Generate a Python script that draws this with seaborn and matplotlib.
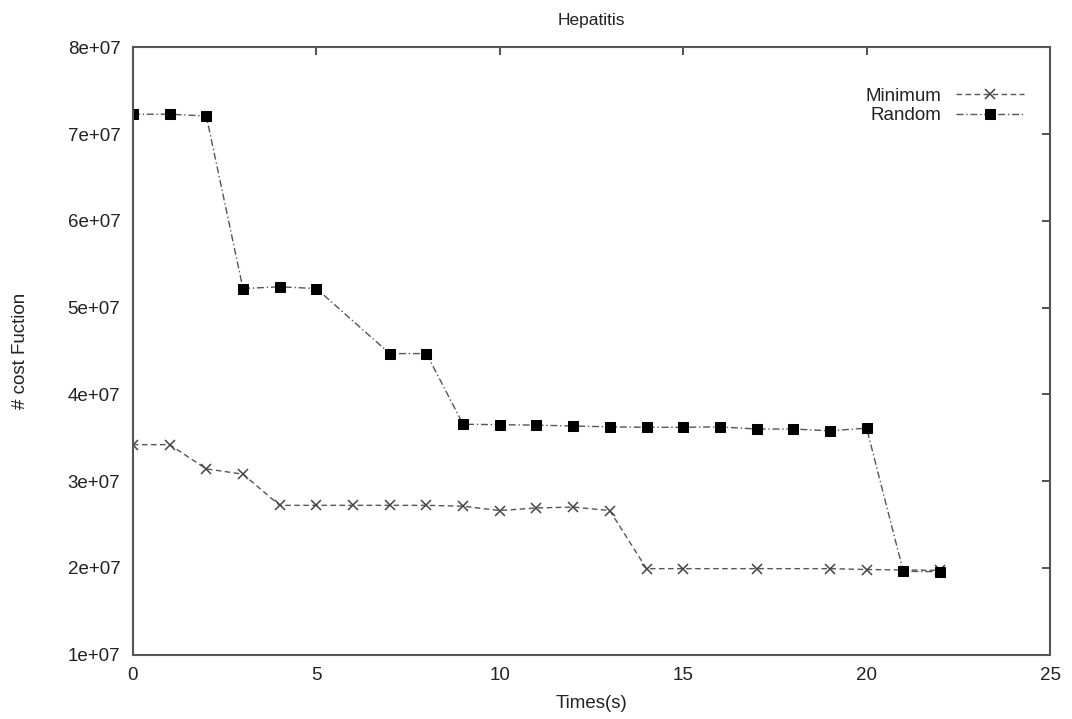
import matplotlib
matplotlib.use("Agg")
import matplotlib.pyplot as plt
from matplotlib.ticker import FuncFormatter, MultipleLocator
import seaborn as sns
import pandas as pd

# Data
min_x = [0, 1, 2, 3, 4, 5, 6, 7, 8, 9, 10, 11, 12, 13, 14, 15, 17, 19, 20, 22]
min_y = [3.42e7, 3.42e7, 3.14e7, 3.08e7, 2.72e7, 2.72e7, 2.72e7, 2.72e7, 2.72e7, 2.71e7,
         2.66e7, 2.69e7, 2.70e7, 2.66e7, 1.99e7, 1.99e7, 1.99e7, 1.99e7, 1.98e7, 1.97e7]

rand_x = [0, 1, 2, 3, 4, 5, 7, 8, 9, 10, 11, 12, 13, 14, 15, 16, 17, 18, 19, 20, 21, 22]
rand_y = [7.23e7, 7.23e7, 7.21e7, 5.22e7, 5.24e7, 5.22e7, 4.47e7, 4.47e7, 3.655e7, 3.65e7,
          3.645e7, 3.635e7, 3.625e7, 3.62e7, 3.62e7, 3.625e7, 3.60e7, 3.60e7, 3.58e7, 3.61e7,
          1.96e7, 1.955e7]

title = "Hepatitis"
xlabel = "Times(s)"
ylabel = "# cost Fuction"

sns.set_style("white")
plt.rcParams['font.family'] = ['Liberation Sans', 'DejaVu Sans']

fig = plt.figure(figsize=(10.72, 7.19), dpi=100)
ax = fig.add_axes([0.124, 0.0897, 0.8555, 0.8443])

df_min = pd.DataFrame({"x": min_x, "y": min_y})
df_rand = pd.DataFrame({"x": rand_x, "y": rand_y})

sns.lineplot(data=df_min, x="x", y="y", ax=ax, color="#555555", linestyle=(0, (4, 2.5)),
             linewidth=1.0, marker="x", markersize=7, markeredgewidth=1.1,
             markeredgecolor="#444444", label="Minimum")
sns.lineplot(data=df_rand, x="x", y="y", ax=ax, color="#555555", linestyle=(0, (5, 2, 1, 2)),
             linewidth=1.0, marker="s", markersize=7, markerfacecolor="black",
             markeredgecolor="black", label="Random")

ax.set_xlim(0, 25)
ax.set_ylim(1e7, 8e7)
ax.xaxis.set_major_locator(MultipleLocator(5))
ax.yaxis.set_major_locator(MultipleLocator(1e7))
ax.yaxis.set_major_formatter(FuncFormatter(lambda v, p: f"{v:.0e}"))

ax.tick_params(direction="in", length=6, width=1.2, color="#333333",
               top=True, right=True, labelsize=13.5, pad=9, labelcolor="#222222")
for s in ax.spines.values():
    s.set_color("#555555")
    s.set_linewidth(1.5)
    s.set_visible(True)

ax.set_title(title, fontsize=12.5, color="#222222", pad=16)
ax.set_xlabel(xlabel, fontsize=13.5, color="#222222", labelpad=8)
ax.set_ylabel(ylabel, fontsize=13.5, color="#222222", labelpad=28)

leg = ax.legend(loc="upper right", frameon=False, markerfirst=False, fontsize=13.5,
                handlelength=3.6, handletextpad=0.8, labelspacing=0.15,
                bbox_to_anchor=(0.99, 0.962))
for t in leg.get_texts():
    t.set_color("#222222")

fig.savefig("out.png", dpi=100)
